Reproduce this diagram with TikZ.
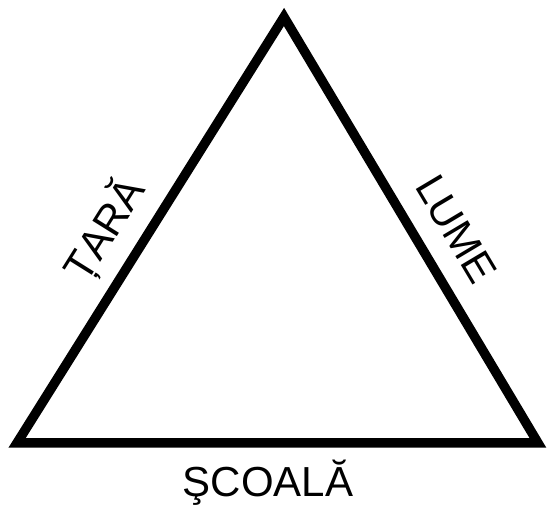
\documentclass[tikz,border=0pt]{standalone}
\usepackage{fontspec}
\setmainfont{Liberation Sans}

\def\SIDECOLOR{black}
\def\SIDEWIDTH{9.5pt}

\tikzset{
	sidelabel/.style={font=\fontsize{42}{48}\selectfont, inner sep=0pt, anchor=base}
}

\begin{document}
\begin{tikzpicture}[x=1pt,y=1pt]

	\useasboundingbox (0,0) rectangle (550,505);
	\coordinate (tara) at (17,62);
	\coordinate (lume) at (538,62);
	\coordinate (varf) at (284,488);
	\draw[\SIDECOLOR,line width=\SIDEWIDTH] (tara) -- (varf) -- (lume) -- cycle;
	\path (tara) -- (varf) node[sidelabel,pos=0.452,sloped,yshift=25pt] (taraText) {ȚARĂ};
	\path (varf) -- (lume) node[sidelabel,pos=0.545,sloped,yshift=25pt] (lumeText) {LUME};
	\node[sidelabel] (scoalaText) at (268,8) {ŞCOALĂ};

      \end{tikzpicture}
\end{document}
